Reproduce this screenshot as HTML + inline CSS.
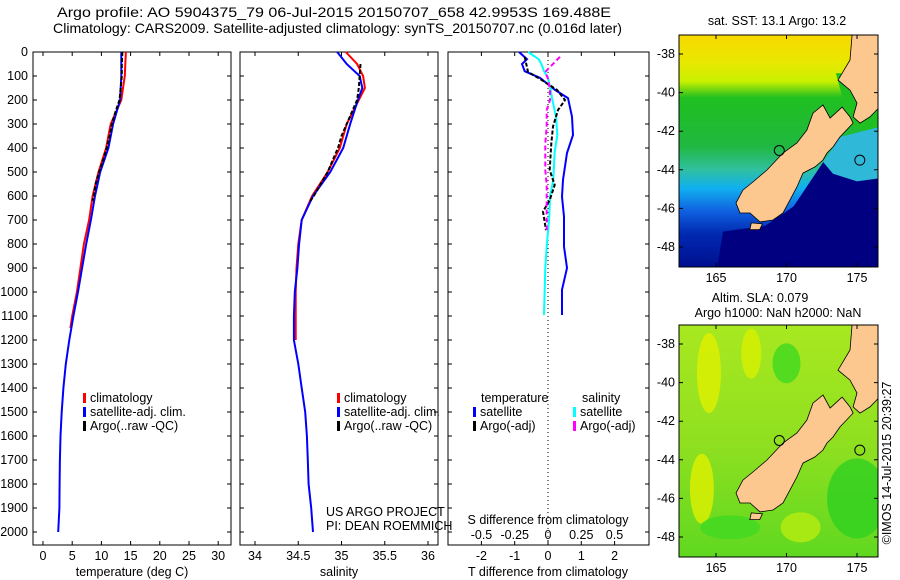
<!DOCTYPE html>
<html><head><meta charset="utf-8">
<style>
html,body{margin:0;padding:0;background:#fff;}
svg{display:block;font-family:"Liberation Sans",sans-serif;}
text{font-size:12.5px;fill:#000;}
text.ttl{font-size:14px;}
</style></head>
<body>
<svg id="s" width="900" height="580" viewBox="0 0 900 580" xmlns="http://www.w3.org/2000/svg">
<text class="ttl" x="57" y="17" textLength="554" lengthAdjust="spacingAndGlyphs">Argo profile: AO 5904375_79 06-Jul-2015 20150707_658 42.9953S 169.488E</text>
<text class="ttl" x="53" y="33" textLength="569" lengthAdjust="spacingAndGlyphs">Climatology: CARS2009. Satellite-adjusted climatology: synTS_20150707.nc (0.016d later)</text>
<g id="g"></g>
</svg>
<script>
const depths=[0,50,100,150,200,300,400,500,600,700,800,900,1000,1100,1200,1300,1400,1500,1600,1700,1800,1900,2000];
const tempSat=[13.4,13.4,13.4,13.3,13.2,12.0,11.2,9.8,8.9,8.2,7.4,6.7,6.0,5.2,4.5,3.9,3.5,3.2,3.0,2.9,2.85,2.8,2.6];
const climDepths=[0,50,100,150,200,300,400,500,600,700,800,900,1000,1100,1150];
const tempClim=[14.2,14.1,14.0,13.7,13.4,11.6,10.8,9.5,8.5,7.9,7.0,6.4,5.8,5.0,4.7];
const argoDepths=[0,50,100,150,200,250,300,350,400,450,500,550,600,620];
const tempArgo=[13.6,13.5,13.5,13.3,13.1,12.4,11.8,11.4,10.9,10.3,9.6,9.0,8.7,8.5];
const salSat=[34.95,35.06,35.21,35.24,35.19,35.1,35.02,34.87,34.67,34.54,34.51,34.49,34.46,34.45,34.45,34.5,34.54,34.58,34.6,34.61,34.62,34.65,34.67];
const salClimDepths=[0,50,100,150,200,300,400,500,600,700,800,900,1000,1100,1200];
const salClim=[35.05,35.18,35.25,35.27,35.2,35.06,34.98,34.84,34.66,34.54,34.5,34.48,34.47,34.47,34.47];
const salArgo=[35.22,35.22,35.21,35.2,35.18,35.12,35.06,35.0,34.96,34.9,34.84,34.76,34.68,34.64];
const diffDepths=[0,30,50,80,108,158,192,270,346,421,533,603,686,811,900,991,1096];
const tDiffSat=[-0.87,-0.63,-0.78,-0.7,-0.24,0.21,0.6,0.72,0.75,0.57,0.45,0.42,0.48,0.48,0.57,0.42,0.42];
const sDiffSat=[-0.15,-0.07,-0.05,-0.03,0,0.02,0.03,0.06,0.07,0.05,0.04,0.015,0.01,-0.01,-0.02,-0.025,-0.03];
const argoDiffDepths=[20,83,112,158,200,242,311,381,492,554,617,665,742];
const tDiffArgo=[-0.7,-0.6,-0.24,0.27,0.51,0.3,0.15,0.1,0.05,0.2,0.05,-0.15,-0.06];
const sDiffArgo=[0.09,-0.02,0.0,0.015,0.015,-0.01,-0.01,-0.02,-0.02,-0.01,-0.01,-0.01,-0.01];
const depthTicks=[0,100,200,300,400,500,600,700,800,900,1000,1100,1200,1300,1400,1500,1600,1700,1800,1900,2000];
const tempTicks=[0,5,10,15,20,25,30];
const salTicks=[34,34.5,35,35.5,36];
const salTickLabels=["34","34.5","35","35.5","36"];
const tDiffTicks=[-2,-1,0,1,2];
const sDiffTicks=[-0.5,-0.25,0,0.25,0.5];
const sDiffTickLabels=["-0.5","-0.25","0","0.25","0.5"];

const NS='http://www.w3.org/2000/svg';
const G=document.getElementById('g');
function mk(tag,attrs,parent){const e=document.createElementNS(NS,tag);for(const k in attrs)e.setAttribute(k,attrs[k]);(parent||G).appendChild(e);return e;}
const yD=d=>52+d*0.24;
const xT=t=>43+t*5.84;
const xS=s=>255+(s-34)*86.5;
const xTD=t=>548+t*33.3;
const xSD=s=>548+s*133;
const TOP=52,BOT=545;

function panel(x0,x1,name){
  const r=mk('rect',{x:x0,y:TOP,width:x1-x0,height:BOT-TOP,fill:'none',stroke:'#000','stroke-width':1});
  
  
  depthTicks.forEach(d=>{
    const t=mk('path',{d:`M${x0} ${yD(d)}h4M${x1} ${yD(d)}h-4`,stroke:'#000'});
    
    
  });
}
function xticks(vals,fx,labels,y,name){
  vals.forEach((v,i)=>{
    const t=mk('path',{d:`M${fx(v)} ${BOT}v-4M${fx(v)} ${TOP}v4`,stroke:'#000'});
    
    
    if(labels){const l=mk('text',{x:fx(v),y:y,'text-anchor':'middle'});l.textContent=labels[i];
    
    }
  });
}
function line(ds,vs,fx,color,name,w,dash){
  const pts=ds.map((d,i)=>fx(vs[i]).toFixed(1)+','+yD(d).toFixed(1)).join(' ');
  const p=mk('polyline',{points:pts,fill:'none',stroke:color,'stroke-width':w||2});
  if(dash)p.setAttribute('stroke-dasharray',dash);
  
  
}
function txt(x,y,s,name,anchor){const t=mk('text',{x:x,y:y,'text-anchor':anchor||'start'});t.textContent=s;
  
  return t;}

panel(33,231,'temperature-panel');
panel(240,438,'salinity-panel');
panel(448,649,'difference-panel');
depthTicks.forEach(d=>{txt(28,yD(d)+4,String(d),'depth-tick-label','end');});
xticks(tempTicks,xT,tempTicks.map(String),560,'temp');
xticks(salTicks,xS,salTickLabels,560,'salinity');
xticks(tDiffTicks,xTD,tDiffTicks.map(String),560,'t-diff');
sDiffTicks.forEach((v,i)=>{txt(xSD(v),539,sDiffTickLabels[i],'s-diff-tick-label','middle');});
txt(132,576,'temperature (deg C)','temp-axis-title','middle');
txt(339,576,'salinity','salinity-axis-title','middle');
txt(548,576,'T difference from climatology','t-diff-axis-title','middle');
txt(548,524,'S difference from climatology','s-diff-axis-title','middle');
const z=mk('line',{x1:548,y1:TOP,x2:548,y2:BOT,stroke:'#000','stroke-dasharray':'1,3'});



line(climDepths,tempClim,xT,'#f00','temp-climatology-line');
line(depths,tempSat,xT,'#00f','temp-satellite-line');
line(argoDepths,tempArgo,xT,'#000','temp-argo-line',2,'4,2');
line(salClimDepths,salClim,xS,'#f00','salinity-climatology-line');
line(depths,salSat,xS,'#00f','salinity-satellite-line');
line(argoDepths.slice(1),salArgo.slice(1),xS,'#000','salinity-argo-line',2,'4,2');
line(diffDepths,tDiffSat,xTD,'#00f','t-diff-satellite-line');
line(diffDepths,sDiffSat,xSD,'#0ff','s-diff-satellite-line');
line(argoDiffDepths,tDiffArgo,xTD,'#000','t-diff-argo-line',2,'4,2');
line(argoDiffDepths,sDiffArgo,xSD,'#f0f','s-diff-argo-line',2,'5,3');

function legend(x,y,color,label){
  const m=mk('rect',{x:x,y:y-9,width:3,height:10,fill:color});
  
  
  txt(x+7,y,label,'legend-entry');
}
legend(83,402,'#f00','climatology');legend(83,416,'#00f','satellite-adj. clim.');legend(83,430,'#000','Argo(..raw -QC)');
legend(337,402,'#f00','climatology');legend(337,416,'#00f','satellite-adj. clim.');legend(337,430,'#000','Argo(..raw -QC)');
txt(481,402,'temperature','legend-temperature-heading');txt(582,402,'salinity','legend-salinity-heading');
legend(473,416,'#00f','satellite');legend(473,430,'#000','Argo(-adj)');
legend(573,416,'#0ff','satellite');legend(573,430,'#f0f','Argo(-adj)');
txt(326,516,'US ARGO PROJECT','credit-project');txt(326,530,'PI: DEAN ROEMMICH','credit-pi');

const southIsland=[[172.59,-40.64],[173.09,-41.32],[173.94,-40.75],[174.5,-41.26],[174.72,-41.58],[173.79,-42.3],[173.3,-42.82],[172.87,-43.13],[172.59,-43.49],[172.02,-43.85],[171.17,-44.17],[170.74,-44.89],[170.25,-45.56],[169.75,-46.24],[169.04,-46.6],[168.12,-46.7],[167.41,-46.24],[166.7,-46.24],[166.42,-45.72],[166.91,-45.05],[167.62,-44.63],[168.62,-44.01],[169.75,-43.13],[170.74,-42.61],[171.45,-41.94],[171.88,-41.06]];
const stewartIsland=[[167.5,-46.75],[168.3,-46.8],[168.1,-47.1],[167.4,-47.1]];
const northIsland=[[174.65,-37.0],[174.5,-38.31],[174.0,-38.93],[173.65,-39.35],[174.5,-39.87],[175.0,-40.54],[174.72,-41.26],[175.21,-41.58],[175.92,-41.26],[176.6,-40.75],[176.6,-37.0]];
const lonTicks=[165,170,175];
const latTicks=[-38,-40,-42,-44,-46,-48];
const argoPos=[169.49,-43.0];

function map(y0,mapName,kind){
  const X0=679,X1=878,Y0=y0-19,Y1=y0+213;
  const px=lon=>716+(lon-165)*14.1, py=lat=>y0+(-38-lat)*19.3;
  const P=a=>a.map(q=>px(q[0]).toFixed(1)+','+py(q[1]).toFixed(1)).join(' ');
  const defs=mk('defs',{});
  const gid='grad'+kind;
  const gr=mk('linearGradient',{id:gid,x1:0,y1:0,x2:0,y2:1},defs);
  const stops=kind==='sst'?[[0,'#f8d800'],[0.12,'#e8e800'],[0.2,'#c8f000'],[0.27,'#20c020'],[0.48,'#20b840'],[0.58,'#30c0a0'],[0.66,'#10b0f0'],[0.76,'#1060e0'],[0.86,'#0028b0'],[1,'#001090']]
    :[[0,'#a8e820'],[0.5,'#90e020'],[1,'#60d820']];
  stops.forEach(s=>mk('stop',{offset:s[0],'stop-color':s[1]},gr));
  const clip=mk('clipPath',{id:'clip'+kind},defs);mk('rect',{x:X0,y:Y0,width:X1-X0,height:Y1-Y0},clip);
  const g=mk('g',{'clip-path':`url(#clip${kind})`});
  
  
  mk('rect',{x:X0,y:Y0,width:X1-X0,height:Y1-Y0,fill:`url(#${gid})`},g);
  if(kind==='sst'){
    mk('polygon',{points:P([[173.5,-39.0],[177,-39],[177,-42.3],[174.5,-41.7]]),fill:'#20c020'},g);
    mk('polygon',{points:P([[173.8,-42.3],[177,-41.7],[177,-44.4],[175,-44.6],[173.3,-44.2],[172.6,-43.6]]),fill:'#30b8d8'},g);
    mk('polygon',{points:P([[172.6,-43.6],[173.3,-44.2],[175,-44.6],[177,-44.4],[177,-49.5],[165,-49.5],[165.5,-47.2],[168.5,-46.9],[170.5,-45.9]]),fill:'#000080'},g);
  } else {
    [[164.5,-39.5,12,40,'#e0f000'],[167.5,-38.5,10,25,'#d8f000'],[164,-45.5,12,35,'#e0f000'],[170,-39,14,20,'#40d820'],[175,-46,30,40,'#30d020'],[166,-47.5,30,12,'#40d820'],[171,-47.5,20,15,'#b8ec10']].forEach(b=>{
      mk('ellipse',{cx:px(b[0]),cy:py(b[1]),rx:b[2],ry:b[3],fill:b[4],opacity:0.8},g);
    });
  }
  [southIsland,stewartIsland,northIsland].forEach(poly=>{
    mk('polygon',{points:P(poly),fill:'#fcc890',stroke:'#000','stroke-width':0.8},g);
  });
  mk('circle',{cx:px(argoPos[0]),cy:py(argoPos[1]),r:5,fill:'none',stroke:'#000'},g);
  mk('circle',{cx:px(175.2),cy:py(-43.5),r:5,fill:'none',stroke:'#000'},g);
  const fr=mk('rect',{x:X0,y:Y0,width:X1-X0,height:Y1-Y0,fill:'none',stroke:'#000'});
  
  
  lonTicks.forEach(l=>{mk('path',{d:`M${px(l)} ${Y1}v-4M${px(l)} ${Y0}v4`,stroke:'#000'});
    txt(px(l),Y1+15,String(l),'lon-tick-label','middle');});
  latTicks.forEach(l=>{mk('path',{d:`M${X0} ${py(l)}h4M${X1} ${py(l)}h-4`,stroke:'#000'});
    txt(X0-4,py(l)+4,String(l),'lat-tick-label','end');});
}
map(54,'sst-map','sst');
map(344,'sla-map','sla');
txt(777,25,'sat. SST: 13.1 Argo: 13.2','sst-map-title','middle');
txt(760,302,'Altim. SLA: 0.079','sla-map-title','middle');
txt(778,317,'Argo h1000: NaN h2000: NaN','sla-map-subtitle','middle');
const r=txt(0,0,'©IMOS 14-Jul-2015 20:39:27','timestamp','middle');
r.setAttribute('transform','translate(891,463) rotate(-90)');
</script>
</body></html>
